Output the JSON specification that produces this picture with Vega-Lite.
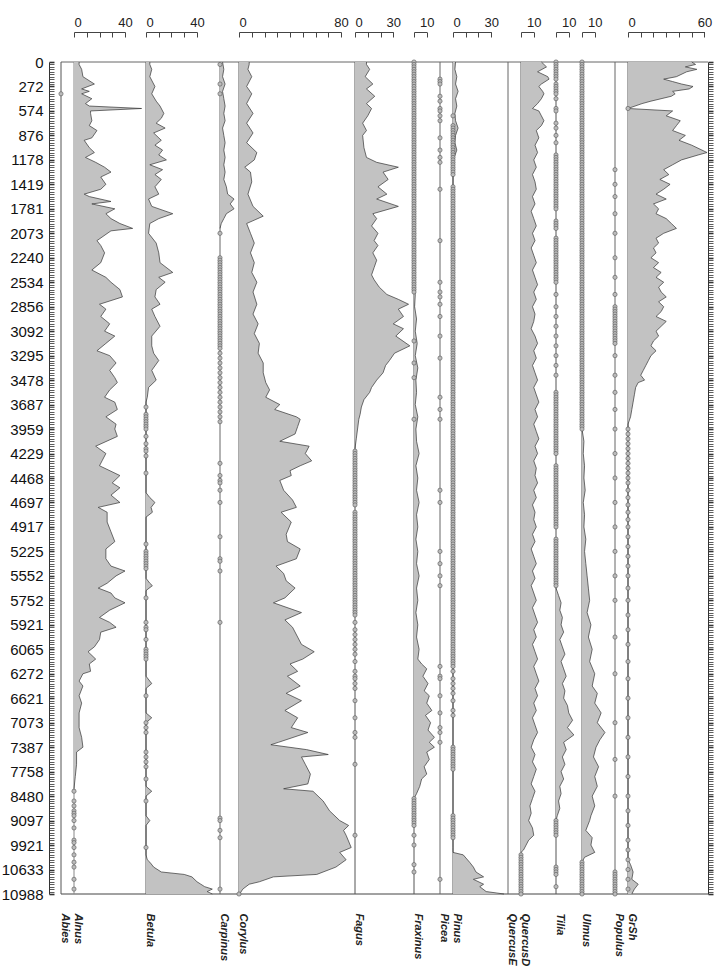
{
"$schema":"https://vega.github.io/schema/vega-lite/v6.json",
"padding":{"left":1,"top":16,"right":5,"bottom":0},
"spacing":0,
"bounds":"flush",
"config":{
 "view":{"stroke":null},
 "axis":{"grid":false,"labelFont":"Liberation Sans","titleFont":"Liberation Sans","domainColor":"#444","tickColor":"#444","labelColor":"#222"},
 "axisTop":{"offset":30,"tickSize":-5,"labelPadding":8,"labelFontSize":13,"title":null},
 "axisBottom":{"domain":false,"ticks":false,"labels":false,"titleAngle":90,"titleAlign":"left","titleBaseline":"alphabetic","titleX":0,"titleY":19,"titleFontSize":11,"titleFontWeight":"bold","titleFontStyle":"italic","titleColor":"#222"}
},
"datasets":{
"d_Abies":[{"i":13}],
"a_Alnus":[{"i":0,"v":4},{"i":1,"v":4},{"i":3,"v":6},{"i":6,"v":7},{"i":9,"v":16},{"i":11,"v":6},{"i":12,"v":12},{"i":13,"v":6},{"i":15,"v":14},{"i":17,"v":9},{"i":18,"v":12},{"i":19,"v":53},{"i":20,"v":13},{"i":21,"v":13},{"i":24,"v":14},{"i":26,"v":12},{"i":28,"v":18},{"i":31,"v":14},{"i":32,"v":8},{"i":35,"v":12},{"i":37,"v":16},{"i":39,"v":9},{"i":41,"v":17},{"i":43,"v":24},{"i":45,"v":29},{"i":47,"v":21},{"i":50,"v":25},{"i":52,"v":21},{"i":54,"v":8},{"i":55,"v":12},{"i":57,"v":29},{"i":58,"v":14},{"i":60,"v":32},{"i":62,"v":25},{"i":64,"v":29},{"i":66,"v":36},{"i":68,"v":46},{"i":69,"v":29},{"i":73,"v":18},{"i":75,"v":21},{"i":78,"v":24},{"i":82,"v":21},{"i":85,"v":14},{"i":88,"v":25},{"i":90,"v":29},{"i":93,"v":36},{"i":96,"v":38},{"i":99,"v":20},{"i":101,"v":25},{"i":104,"v":21},{"i":107,"v":28},{"i":110,"v":24},{"i":112,"v":32},{"i":115,"v":25},{"i":118,"v":18},{"i":120,"v":28},{"i":123,"v":33},{"i":126,"v":28},{"i":129,"v":32},{"i":131,"v":34},{"i":134,"v":28},{"i":137,"v":24},{"i":139,"v":32},{"i":142,"v":34},{"i":145,"v":25},{"i":148,"v":33},{"i":150,"v":32},{"i":153,"v":34},{"i":157,"v":17},{"i":160,"v":25},{"i":163,"v":22},{"i":165,"v":20},{"i":169,"v":36},{"i":172,"v":30},{"i":174,"v":36},{"i":177,"v":29},{"i":180,"v":36},{"i":182,"v":19},{"i":184,"v":26},{"i":188,"v":26},{"i":192,"v":29},{"i":196,"v":32},{"i":199,"v":25},{"i":203,"v":25},{"i":206,"v":29},{"i":208,"v":40},{"i":210,"v":33},{"i":213,"v":26},{"i":215,"v":19},{"i":217,"v":29},{"i":219,"v":32},{"i":221,"v":40},{"i":224,"v":28},{"i":227,"v":20},{"i":229,"v":28},{"i":231,"v":33},{"i":233,"v":21},{"i":236,"v":20},{"i":239,"v":16},{"i":241,"v":11},{"i":244,"v":17},{"i":246,"v":12},{"i":249,"v":13},{"i":250,"v":7},{"i":253,"v":4},{"i":255,"v":7},{"i":259,"v":4},{"i":262,"v":6},{"i":266,"v":4},{"i":272,"v":4},{"i":276,"v":6},{"i":280,"v":7},{"i":282,"v":2},{"i":287,"v":2},{"i":292,"v":1},{"i":297,"v":0}],
"d_Alnus":[{"i":298},{"i":302},{"i":304},{"i":306},{"i":307},{"i":308},{"i":310},{"i":313},{"i":318},{"i":319},{"i":321},{"i":324},{"i":327},{"i":329},{"i":334},{"i":338}],
"a_Betula":[{"i":0,"v":3},{"i":1,"v":3},{"i":3,"v":4.5},{"i":6,"v":3},{"i":10,"v":7},{"i":13,"v":4.5},{"i":16,"v":8},{"i":18,"v":11},{"i":21,"v":14},{"i":23,"v":12},{"i":25,"v":8},{"i":27,"v":15},{"i":29,"v":6},{"i":32,"v":12},{"i":34,"v":7},{"i":36,"v":13},{"i":38,"v":10},{"i":40,"v":16},{"i":42,"v":3},{"i":44,"v":13},{"i":46,"v":7},{"i":48,"v":12},{"i":51,"v":7},{"i":54,"v":10},{"i":56,"v":2},{"i":59,"v":4.5},{"i":62,"v":21},{"i":64,"v":10},{"i":66,"v":3},{"i":70,"v":2},{"i":74,"v":8},{"i":78,"v":10},{"i":82,"v":11},{"i":86,"v":21},{"i":88,"v":10},{"i":90,"v":15},{"i":93,"v":8},{"i":96,"v":7},{"i":99,"v":11},{"i":101,"v":4.5},{"i":104,"v":7},{"i":108,"v":11},{"i":112,"v":4.5},{"i":116,"v":4.5},{"i":119,"v":6},{"i":122,"v":10},{"i":126,"v":4.5},{"i":130,"v":8},{"i":133,"v":2},{"i":137,"v":1},{"i":139,"v":0},{"i":176,"v":0},{"i":178,"v":3},{"i":180,"v":7},{"i":182,"v":4},{"i":184,"v":5},{"i":186,"v":0},{"i":211,"v":0},{"i":213,"v":3},{"i":214,"v":5},{"i":216,"v":0},{"i":251,"v":0},{"i":253,"v":3},{"i":254,"v":4.5},{"i":256,"v":0},{"i":266,"v":0},{"i":268,"v":4.5},{"i":270,"v":0},{"i":296,"v":0},{"i":298,"v":4.5},{"i":300,"v":0},{"i":308,"v":0},{"i":310,"v":3},{"i":312,"v":0},{"i":324,"v":0},{"i":326,"v":1},{"i":327,"v":3},{"i":329,"v":6},{"i":331,"v":12},{"i":332,"v":30},{"i":333,"v":36},{"i":335,"v":40},{"i":336,"v":43},{"i":337,"v":46},{"i":338,"v":52},{"i":339,"v":48},{"i":340,"v":52}],
"d_Betula":[{"i":141},{"i":144},{"i":145},{"i":146},{"i":147},{"i":148},{"i":149},{"i":150},{"i":153},{"i":156},{"i":158},{"i":159},{"i":161},{"i":168},{"i":197},{"i":200},{"i":201},{"i":202},{"i":203},{"i":204},{"i":205},{"i":206},{"i":207},{"i":219},{"i":229},{"i":231},{"i":232},{"i":236},{"i":240},{"i":241},{"i":242},{"i":243},{"i":244},{"i":259},{"i":270},{"i":272},{"i":274},{"i":282},{"i":284},{"i":286},{"i":288},{"i":293},{"i":302},{"i":321}],
"a_Carpinus":[{"i":0,"v":2},{"i":3,"v":3},{"i":6,"v":2},{"i":9,"v":4},{"i":12,"v":2},{"i":15,"v":3},{"i":18,"v":4},{"i":21,"v":3},{"i":24,"v":4},{"i":27,"v":2},{"i":30,"v":3},{"i":33,"v":4},{"i":36,"v":3},{"i":39,"v":4},{"i":42,"v":3},{"i":45,"v":4},{"i":48,"v":3},{"i":51,"v":5},{"i":54,"v":6},{"i":56,"v":11},{"i":58,"v":8},{"i":60,"v":11},{"i":62,"v":5},{"i":64,"v":3},{"i":66,"v":1},{"i":68,"v":0}],
"d_Carpinus":[{"i":1},{"i":9},{"i":13},{"i":70},{"i":80},{"i":81},{"i":82},{"i":83},{"i":84},{"i":85},{"i":86},{"i":87},{"i":88},{"i":89},{"i":90},{"i":91},{"i":92},{"i":93},{"i":94},{"i":95},{"i":96},{"i":97},{"i":98},{"i":99},{"i":100},{"i":101},{"i":102},{"i":103},{"i":104},{"i":105},{"i":106},{"i":107},{"i":108},{"i":109},{"i":110},{"i":111},{"i":112},{"i":113},{"i":114},{"i":115},{"i":116},{"i":117},{"i":119},{"i":121},{"i":123},{"i":125},{"i":127},{"i":129},{"i":131},{"i":133},{"i":135},{"i":137},{"i":139},{"i":141},{"i":143},{"i":145},{"i":147},{"i":164},{"i":169},{"i":171},{"i":172},{"i":175},{"i":180},{"i":194},{"i":203},{"i":204},{"i":208},{"i":229},{"i":309},{"i":310},{"i":314},{"i":317},{"i":338}],
"a_Corylus":[{"i":0,"v":8},{"i":1,"v":8},{"i":3,"v":7},{"i":6,"v":10},{"i":10,"v":6},{"i":13,"v":10},{"i":17,"v":6},{"i":21,"v":11},{"i":25,"v":6},{"i":29,"v":11},{"i":33,"v":6},{"i":37,"v":14},{"i":40,"v":12},{"i":43,"v":4.5},{"i":45,"v":9},{"i":49,"v":10},{"i":54,"v":7},{"i":59,"v":11},{"i":63,"v":19},{"i":66,"v":6},{"i":70,"v":9},{"i":74,"v":12},{"i":78,"v":9},{"i":82,"v":12},{"i":86,"v":10},{"i":90,"v":14},{"i":94,"v":11},{"i":99,"v":14},{"i":103,"v":11},{"i":107,"v":15},{"i":111,"v":12},{"i":115,"v":16},{"i":119,"v":15},{"i":123,"v":19},{"i":127,"v":19},{"i":131,"v":21},{"i":134,"v":24},{"i":137,"v":21},{"i":140,"v":32},{"i":142,"v":28},{"i":145,"v":45},{"i":146,"v":48},{"i":149,"v":46},{"i":152,"v":44},{"i":155,"v":32},{"i":157,"v":55},{"i":160,"v":52},{"i":163,"v":57},{"i":165,"v":48},{"i":167,"v":40},{"i":169,"v":41},{"i":171,"v":32},{"i":175,"v":35},{"i":179,"v":42},{"i":182,"v":45},{"i":184,"v":33},{"i":188,"v":41},{"i":193,"v":37},{"i":196,"v":38},{"i":199,"v":48},{"i":203,"v":45},{"i":206,"v":29},{"i":209,"v":35},{"i":212,"v":37},{"i":215,"v":44},{"i":219,"v":36},{"i":221,"v":27},{"i":225,"v":49},{"i":228,"v":36},{"i":231,"v":42},{"i":235,"v":46},{"i":238,"v":49},{"i":241,"v":59},{"i":244,"v":50},{"i":246,"v":40},{"i":249,"v":46},{"i":251,"v":38},{"i":255,"v":48},{"i":258,"v":37},{"i":261,"v":49},{"i":265,"v":36},{"i":268,"v":46},{"i":272,"v":41},{"i":274,"v":54},{"i":278,"v":31},{"i":279,"v":25},{"i":281,"v":53},{"i":283,"v":70},{"i":284,"v":49},{"i":287,"v":52},{"i":291,"v":56},{"i":295,"v":54},{"i":297,"v":35},{"i":298,"v":58},{"i":302,"v":66},{"i":306,"v":71},{"i":310,"v":79},{"i":312,"v":86},{"i":314,"v":82},{"i":316,"v":84},{"i":321,"v":88},{"i":323,"v":79},{"i":326,"v":84},{"i":329,"v":76},{"i":332,"v":61},{"i":333,"v":27},{"i":335,"v":16},{"i":336,"v":8},{"i":338,"v":3},{"i":340,"v":0.5}],
"d_Corylus":[{"i":340}],
"a_Fagus":[{"i":0,"v":9},{"i":1,"v":9},{"i":3,"v":11.5},{"i":6,"v":8},{"i":9,"v":14},{"i":11,"v":9},{"i":14,"v":15.5},{"i":17,"v":9},{"i":19,"v":13},{"i":22,"v":10},{"i":25,"v":6},{"i":28,"v":9},{"i":30,"v":6},{"i":35,"v":7},{"i":39,"v":9},{"i":41,"v":17},{"i":43,"v":34},{"i":45,"v":22},{"i":48,"v":26},{"i":51,"v":18},{"i":54,"v":25},{"i":56,"v":17},{"i":59,"v":34},{"i":62,"v":14},{"i":64,"v":17},{"i":67,"v":13},{"i":70,"v":18},{"i":73,"v":15},{"i":75,"v":18},{"i":78,"v":14},{"i":81,"v":17},{"i":84,"v":15},{"i":87,"v":13},{"i":89,"v":15},{"i":92,"v":19},{"i":95,"v":25},{"i":97,"v":34},{"i":99,"v":42},{"i":101,"v":34},{"i":104,"v":38},{"i":107,"v":30},{"i":109,"v":38},{"i":112,"v":32},{"i":116,"v":43},{"i":119,"v":31},{"i":122,"v":27},{"i":124,"v":24},{"i":127,"v":22},{"i":130,"v":17},{"i":133,"v":13},{"i":135,"v":11.5},{"i":138,"v":7},{"i":141,"v":5},{"i":144,"v":4},{"i":146,"v":3},{"i":150,"v":2},{"i":154,"v":1},{"i":158,"v":0}],
"d_Fagus":[{"i":159},{"i":160},{"i":161},{"i":162},{"i":163},{"i":164},{"i":165},{"i":166},{"i":167},{"i":168},{"i":169},{"i":170},{"i":171},{"i":172},{"i":173},{"i":174},{"i":175},{"i":176},{"i":177},{"i":178},{"i":179},{"i":180},{"i":181},{"i":184},{"i":185},{"i":186},{"i":187},{"i":188},{"i":189},{"i":190},{"i":191},{"i":192},{"i":193},{"i":194},{"i":195},{"i":196},{"i":197},{"i":198},{"i":199},{"i":200},{"i":201},{"i":202},{"i":203},{"i":204},{"i":205},{"i":206},{"i":207},{"i":208},{"i":209},{"i":210},{"i":211},{"i":212},{"i":213},{"i":214},{"i":215},{"i":216},{"i":217},{"i":218},{"i":219},{"i":220},{"i":221},{"i":222},{"i":223},{"i":224},{"i":225},{"i":226},{"i":229},{"i":232},{"i":234},{"i":236},{"i":238},{"i":240},{"i":242},{"i":245},{"i":249},{"i":251},{"i":252},{"i":254},{"i":256},{"i":261},{"i":268},{"i":274},{"i":276},{"i":287},{"i":316}],
"a_Fraxinus":[{"i":90,"v":0},{"i":95,"v":1},{"i":100,"v":0.5},{"i":105,"v":2},{"i":110,"v":1},{"i":115,"v":2.5},{"i":120,"v":1},{"i":125,"v":3},{"i":130,"v":1.5},{"i":135,"v":2},{"i":140,"v":1},{"i":145,"v":3},{"i":150,"v":1.5},{"i":155,"v":2},{"i":160,"v":4},{"i":165,"v":1.5},{"i":170,"v":3},{"i":175,"v":2},{"i":180,"v":4},{"i":185,"v":2},{"i":190,"v":3},{"i":195,"v":1.5},{"i":200,"v":3},{"i":205,"v":2},{"i":210,"v":4},{"i":215,"v":2},{"i":220,"v":3},{"i":225,"v":1.5},{"i":230,"v":3},{"i":235,"v":2},{"i":240,"v":4},{"i":244,"v":3},{"i":246,"v":6},{"i":248,"v":10},{"i":251,"v":7},{"i":254,"v":11},{"i":257,"v":8},{"i":259,"v":12},{"i":262,"v":10},{"i":265,"v":14},{"i":267,"v":9},{"i":270,"v":13},{"i":273,"v":11},{"i":276,"v":16},{"i":278,"v":12},{"i":280,"v":16},{"i":282,"v":10},{"i":285,"v":12},{"i":288,"v":8},{"i":291,"v":10},{"i":293,"v":6},{"i":296,"v":4.5},{"i":299,"v":2},{"i":301,"v":0}],
"d_Fraxinus":[{"i":0},{"i":1},{"i":2},{"i":3},{"i":4},{"i":5},{"i":6},{"i":7},{"i":8},{"i":9},{"i":10},{"i":11},{"i":12},{"i":13},{"i":14},{"i":15},{"i":16},{"i":17},{"i":18},{"i":19},{"i":20},{"i":21},{"i":22},{"i":23},{"i":24},{"i":25},{"i":26},{"i":27},{"i":28},{"i":29},{"i":30},{"i":31},{"i":32},{"i":33},{"i":34},{"i":35},{"i":36},{"i":37},{"i":38},{"i":39},{"i":40},{"i":41},{"i":42},{"i":43},{"i":44},{"i":45},{"i":46},{"i":47},{"i":48},{"i":49},{"i":50},{"i":51},{"i":52},{"i":53},{"i":54},{"i":55},{"i":56},{"i":57},{"i":58},{"i":59},{"i":60},{"i":61},{"i":62},{"i":63},{"i":64},{"i":65},{"i":66},{"i":67},{"i":68},{"i":69},{"i":70},{"i":71},{"i":72},{"i":73},{"i":74},{"i":75},{"i":76},{"i":77},{"i":78},{"i":79},{"i":80},{"i":81},{"i":82},{"i":83},{"i":84},{"i":85},{"i":86},{"i":87},{"i":88},{"i":89},{"i":90},{"i":91},{"i":92},{"i":93},{"i":94},{"i":114},{"i":123},{"i":129},{"i":146},{"i":301},{"i":302},{"i":303},{"i":304},{"i":305},{"i":306},{"i":307},{"i":308},{"i":309},{"i":310},{"i":311},{"i":312},{"i":316},{"i":320},{"i":328},{"i":331}],
"d_Picea":[{"i":7},{"i":8},{"i":9},{"i":14},{"i":16},{"i":19},{"i":20},{"i":22},{"i":24},{"i":31},{"i":36},{"i":39},{"i":41},{"i":52},{"i":73},{"i":90},{"i":94},{"i":96},{"i":99},{"i":104},{"i":112},{"i":121},{"i":137},{"i":142},{"i":146},{"i":175},{"i":180},{"i":200},{"i":205},{"i":210},{"i":214},{"i":247},{"i":251},{"i":252},{"i":259},{"i":266},{"i":272},{"i":274},{"i":278},{"i":334}],
"a_Pinus":[{"i":0,"v":2},{"i":3,"v":1.5},{"i":6,"v":3},{"i":9,"v":2},{"i":12,"v":4},{"i":15,"v":2},{"i":18,"v":3},{"i":21,"v":1.5},{"i":24,"v":2},{"i":27,"v":4},{"i":30,"v":2},{"i":33,"v":1.5},{"i":36,"v":3},{"i":39,"v":1},{"i":42,"v":0},{"i":321,"v":0},{"i":323,"v":0},{"i":324,"v":8},{"i":327,"v":13},{"i":329,"v":16},{"i":331,"v":18},{"i":333,"v":24},{"i":334,"v":16},{"i":336,"v":24},{"i":337,"v":21},{"i":339,"v":26},{"i":340,"v":40}],
"d_Pinus":[{"i":22},{"i":26},{"i":27},{"i":28},{"i":29},{"i":30},{"i":31},{"i":32},{"i":33},{"i":34},{"i":35},{"i":36},{"i":37},{"i":38},{"i":39},{"i":40},{"i":41},{"i":42},{"i":43},{"i":44},{"i":45},{"i":46},{"i":51},{"i":52},{"i":53},{"i":54},{"i":55},{"i":56},{"i":57},{"i":58},{"i":59},{"i":60},{"i":61},{"i":62},{"i":63},{"i":64},{"i":65},{"i":66},{"i":67},{"i":68},{"i":69},{"i":70},{"i":71},{"i":72},{"i":73},{"i":74},{"i":75},{"i":76},{"i":77},{"i":78},{"i":79},{"i":80},{"i":81},{"i":82},{"i":83},{"i":84},{"i":85},{"i":86},{"i":87},{"i":88},{"i":89},{"i":90},{"i":91},{"i":92},{"i":93},{"i":94},{"i":95},{"i":96},{"i":97},{"i":98},{"i":99},{"i":100},{"i":101},{"i":102},{"i":103},{"i":104},{"i":105},{"i":106},{"i":107},{"i":108},{"i":109},{"i":110},{"i":111},{"i":112},{"i":113},{"i":114},{"i":115},{"i":116},{"i":117},{"i":118},{"i":119},{"i":120},{"i":121},{"i":122},{"i":123},{"i":124},{"i":125},{"i":126},{"i":127},{"i":128},{"i":129},{"i":130},{"i":131},{"i":132},{"i":133},{"i":134},{"i":135},{"i":136},{"i":137},{"i":138},{"i":139},{"i":140},{"i":141},{"i":142},{"i":143},{"i":144},{"i":145},{"i":146},{"i":147},{"i":148},{"i":149},{"i":150},{"i":151},{"i":152},{"i":153},{"i":154},{"i":155},{"i":156},{"i":157},{"i":158},{"i":159},{"i":160},{"i":161},{"i":162},{"i":163},{"i":164},{"i":165},{"i":166},{"i":167},{"i":168},{"i":169},{"i":170},{"i":171},{"i":172},{"i":173},{"i":174},{"i":175},{"i":176},{"i":177},{"i":178},{"i":179},{"i":180},{"i":181},{"i":182},{"i":183},{"i":184},{"i":185},{"i":186},{"i":187},{"i":188},{"i":189},{"i":190},{"i":191},{"i":192},{"i":193},{"i":194},{"i":195},{"i":196},{"i":197},{"i":198},{"i":199},{"i":200},{"i":201},{"i":202},{"i":203},{"i":204},{"i":205},{"i":206},{"i":207},{"i":208},{"i":209},{"i":210},{"i":211},{"i":212},{"i":213},{"i":214},{"i":215},{"i":216},{"i":217},{"i":218},{"i":219},{"i":220},{"i":221},{"i":222},{"i":223},{"i":224},{"i":225},{"i":226},{"i":227},{"i":228},{"i":229},{"i":230},{"i":231},{"i":232},{"i":233},{"i":234},{"i":235},{"i":236},{"i":237},{"i":238},{"i":239},{"i":240},{"i":241},{"i":242},{"i":243},{"i":244},{"i":245},{"i":246},{"i":247},{"i":249},{"i":252},{"i":254},{"i":256},{"i":258},{"i":261},{"i":265},{"i":267},{"i":280},{"i":281},{"i":282},{"i":283},{"i":284},{"i":285},{"i":286},{"i":287},{"i":288},{"i":289},{"i":308},{"i":309},{"i":310},{"i":311},{"i":312},{"i":313},{"i":314},{"i":315},{"i":316},{"i":317}],
"a_QuercusD":[{"i":0,"v":16},{"i":2,"v":20},{"i":4,"v":13},{"i":6,"v":21},{"i":7,"v":22},{"i":9,"v":16},{"i":10,"v":14},{"i":12,"v":17},{"i":13,"v":18},{"i":15,"v":16},{"i":17,"v":13},{"i":19,"v":9},{"i":20,"v":14},{"i":22,"v":16},{"i":24,"v":18},{"i":26,"v":16},{"i":28,"v":12},{"i":31,"v":14},{"i":34,"v":11},{"i":37,"v":13},{"i":40,"v":10},{"i":43,"v":12},{"i":46,"v":9},{"i":49,"v":11},{"i":52,"v":12},{"i":55,"v":9},{"i":58,"v":11},{"i":61,"v":8},{"i":64,"v":10},{"i":67,"v":12},{"i":70,"v":9},{"i":73,"v":11},{"i":76,"v":8},{"i":79,"v":10},{"i":82,"v":12},{"i":85,"v":9},{"i":88,"v":11},{"i":91,"v":13},{"i":94,"v":10},{"i":97,"v":12},{"i":100,"v":9},{"i":103,"v":11},{"i":106,"v":10},{"i":109,"v":8},{"i":112,"v":11},{"i":115,"v":13},{"i":118,"v":10},{"i":121,"v":12},{"i":124,"v":9},{"i":127,"v":11},{"i":130,"v":13},{"i":133,"v":10},{"i":136,"v":12},{"i":139,"v":14},{"i":142,"v":11},{"i":145,"v":13},{"i":148,"v":10},{"i":151,"v":12},{"i":154,"v":14},{"i":157,"v":11},{"i":160,"v":13},{"i":163,"v":10},{"i":166,"v":12},{"i":169,"v":11},{"i":172,"v":13},{"i":175,"v":10},{"i":178,"v":12},{"i":181,"v":9},{"i":184,"v":11},{"i":187,"v":10},{"i":190,"v":12},{"i":193,"v":9},{"i":196,"v":11},{"i":199,"v":8},{"i":202,"v":10},{"i":205,"v":12},{"i":208,"v":9},{"i":211,"v":11},{"i":214,"v":8},{"i":217,"v":10},{"i":220,"v":12},{"i":223,"v":9},{"i":226,"v":11},{"i":229,"v":13},{"i":232,"v":10},{"i":235,"v":12},{"i":238,"v":9},{"i":241,"v":11},{"i":244,"v":13},{"i":247,"v":10},{"i":250,"v":12},{"i":253,"v":14},{"i":256,"v":11},{"i":259,"v":13},{"i":262,"v":10},{"i":265,"v":12},{"i":268,"v":9},{"i":271,"v":11},{"i":274,"v":13},{"i":277,"v":10},{"i":280,"v":8},{"i":283,"v":11},{"i":286,"v":9},{"i":289,"v":12},{"i":292,"v":10},{"i":295,"v":8},{"i":298,"v":11},{"i":301,"v":9},{"i":304,"v":7},{"i":307,"v":8},{"i":310,"v":6},{"i":313,"v":9},{"i":316,"v":10},{"i":318,"v":6},{"i":320,"v":4},{"i":322,"v":2},{"i":323,"v":0}],
"d_QuercusD":[{"i":324},{"i":325},{"i":326},{"i":327},{"i":328},{"i":329},{"i":330},{"i":331},{"i":332},{"i":333},{"i":334},{"i":335},{"i":336},{"i":337},{"i":338},{"i":339},{"i":340}],
"a_Tilia":[{"i":215,"v":0},{"i":218,"v":2},{"i":221,"v":4},{"i":224,"v":3},{"i":227,"v":5},{"i":230,"v":4},{"i":233,"v":6},{"i":236,"v":3},{"i":239,"v":5},{"i":242,"v":7},{"i":245,"v":4},{"i":248,"v":6},{"i":251,"v":8},{"i":254,"v":5},{"i":257,"v":7},{"i":260,"v":6},{"i":263,"v":9},{"i":266,"v":10},{"i":269,"v":13},{"i":272,"v":9},{"i":275,"v":14},{"i":278,"v":6},{"i":281,"v":8},{"i":284,"v":5},{"i":287,"v":7},{"i":290,"v":4},{"i":293,"v":6},{"i":296,"v":3},{"i":299,"v":4},{"i":302,"v":2},{"i":305,"v":3},{"i":308,"v":1},{"i":310,"v":0}],
"d_Tilia":[{"i":0},{"i":1},{"i":2},{"i":3},{"i":4},{"i":5},{"i":6},{"i":7},{"i":9},{"i":10},{"i":11},{"i":12},{"i":13},{"i":15},{"i":19},{"i":20},{"i":25},{"i":27},{"i":30},{"i":33},{"i":38},{"i":39},{"i":40},{"i":41},{"i":42},{"i":43},{"i":44},{"i":45},{"i":46},{"i":47},{"i":48},{"i":49},{"i":50},{"i":51},{"i":52},{"i":53},{"i":54},{"i":55},{"i":56},{"i":57},{"i":58},{"i":59},{"i":60},{"i":65},{"i":66},{"i":67},{"i":68},{"i":72},{"i":73},{"i":74},{"i":75},{"i":76},{"i":77},{"i":78},{"i":79},{"i":80},{"i":81},{"i":82},{"i":83},{"i":84},{"i":85},{"i":86},{"i":87},{"i":88},{"i":89},{"i":90},{"i":95},{"i":100},{"i":104},{"i":108},{"i":112},{"i":116},{"i":120},{"i":124},{"i":128},{"i":135},{"i":136},{"i":137},{"i":138},{"i":139},{"i":140},{"i":141},{"i":142},{"i":143},{"i":144},{"i":145},{"i":146},{"i":147},{"i":148},{"i":149},{"i":150},{"i":151},{"i":152},{"i":153},{"i":154},{"i":155},{"i":156},{"i":157},{"i":158},{"i":159},{"i":160},{"i":165},{"i":166},{"i":167},{"i":168},{"i":169},{"i":170},{"i":171},{"i":172},{"i":173},{"i":174},{"i":175},{"i":176},{"i":177},{"i":178},{"i":179},{"i":180},{"i":181},{"i":182},{"i":183},{"i":184},{"i":185},{"i":186},{"i":187},{"i":188},{"i":189},{"i":190},{"i":195},{"i":196},{"i":197},{"i":198},{"i":199},{"i":200},{"i":201},{"i":202},{"i":203},{"i":204},{"i":205},{"i":206},{"i":207},{"i":208},{"i":209},{"i":210},{"i":211},{"i":212},{"i":213},{"i":214},{"i":310},{"i":311},{"i":312},{"i":313},{"i":314},{"i":315},{"i":316},{"i":329},{"i":330},{"i":331},{"i":332},{"i":337}],
"a_Ulmus":[{"i":150,"v":0},{"i":155,"v":1.5},{"i":160,"v":1},{"i":165,"v":2},{"i":170,"v":1.5},{"i":175,"v":2.5},{"i":180,"v":1},{"i":185,"v":2},{"i":190,"v":1.5},{"i":195,"v":3},{"i":200,"v":2},{"i":205,"v":3},{"i":210,"v":4},{"i":215,"v":5},{"i":220,"v":6},{"i":225,"v":4},{"i":230,"v":7},{"i":235,"v":5},{"i":240,"v":8},{"i":245,"v":6},{"i":250,"v":10},{"i":255,"v":8},{"i":258,"v":12},{"i":262,"v":10},{"i":266,"v":15},{"i":270,"v":12},{"i":274,"v":18},{"i":277,"v":14},{"i":280,"v":11},{"i":284,"v":9},{"i":288,"v":13},{"i":292,"v":10},{"i":296,"v":12},{"i":300,"v":8},{"i":304,"v":10},{"i":308,"v":7},{"i":310,"v":6},{"i":314,"v":3},{"i":317,"v":8},{"i":320,"v":7},{"i":323,"v":10},{"i":325,"v":2},{"i":327,"v":0}],
"d_Ulmus":[{"i":0},{"i":1},{"i":2},{"i":3},{"i":4},{"i":5},{"i":6},{"i":7},{"i":8},{"i":9},{"i":10},{"i":11},{"i":12},{"i":13},{"i":14},{"i":15},{"i":16},{"i":17},{"i":18},{"i":19},{"i":20},{"i":21},{"i":22},{"i":23},{"i":24},{"i":25},{"i":26},{"i":27},{"i":28},{"i":29},{"i":30},{"i":31},{"i":32},{"i":33},{"i":34},{"i":35},{"i":36},{"i":37},{"i":38},{"i":39},{"i":40},{"i":41},{"i":42},{"i":43},{"i":44},{"i":45},{"i":46},{"i":47},{"i":48},{"i":49},{"i":50},{"i":51},{"i":52},{"i":53},{"i":54},{"i":55},{"i":56},{"i":57},{"i":58},{"i":59},{"i":60},{"i":61},{"i":62},{"i":63},{"i":64},{"i":65},{"i":66},{"i":67},{"i":68},{"i":69},{"i":70},{"i":71},{"i":72},{"i":73},{"i":74},{"i":75},{"i":76},{"i":77},{"i":78},{"i":79},{"i":80},{"i":81},{"i":82},{"i":83},{"i":84},{"i":85},{"i":86},{"i":87},{"i":88},{"i":89},{"i":90},{"i":91},{"i":92},{"i":93},{"i":94},{"i":95},{"i":96},{"i":97},{"i":98},{"i":99},{"i":100},{"i":101},{"i":102},{"i":103},{"i":104},{"i":105},{"i":106},{"i":107},{"i":108},{"i":109},{"i":110},{"i":111},{"i":112},{"i":113},{"i":114},{"i":115},{"i":116},{"i":117},{"i":118},{"i":119},{"i":120},{"i":121},{"i":122},{"i":123},{"i":124},{"i":125},{"i":126},{"i":127},{"i":128},{"i":129},{"i":130},{"i":131},{"i":132},{"i":133},{"i":134},{"i":135},{"i":136},{"i":137},{"i":138},{"i":139},{"i":140},{"i":141},{"i":142},{"i":143},{"i":144},{"i":145},{"i":146},{"i":147},{"i":148},{"i":149},{"i":150},{"i":327},{"i":328},{"i":329},{"i":330},{"i":331},{"i":332},{"i":333},{"i":334},{"i":335},{"i":336},{"i":337},{"i":338},{"i":339},{"i":340}],
"d_Populus":[{"i":44},{"i":50},{"i":55},{"i":62},{"i":70},{"i":80},{"i":88},{"i":95},{"i":100},{"i":101},{"i":102},{"i":103},{"i":104},{"i":105},{"i":106},{"i":107},{"i":108},{"i":109},{"i":110},{"i":111},{"i":112},{"i":113},{"i":114},{"i":115},{"i":120},{"i":128},{"i":135},{"i":142},{"i":150},{"i":160},{"i":170},{"i":180},{"i":190},{"i":200},{"i":210},{"i":220},{"i":235},{"i":250},{"i":270},{"i":285},{"i":300},{"i":331},{"i":332},{"i":333},{"i":334},{"i":335},{"i":336},{"i":337},{"i":338},{"i":339},{"i":340}],
"a_GrSh":[{"i":0,"v":50},{"i":1,"v":53},{"i":2,"v":45},{"i":3,"v":54},{"i":4,"v":46},{"i":6,"v":38},{"i":7,"v":28},{"i":8,"v":35},{"i":9,"v":42},{"i":10,"v":51},{"i":11,"v":48},{"i":12,"v":35},{"i":13,"v":37},{"i":14,"v":34},{"i":16,"v":18},{"i":17,"v":11},{"i":19,"v":0},{"i":20,"v":35},{"i":22,"v":30},{"i":24,"v":41},{"i":26,"v":38},{"i":28,"v":35},{"i":30,"v":45},{"i":32,"v":40},{"i":34,"v":50},{"i":36,"v":58},{"i":37,"v":62},{"i":38,"v":55},{"i":40,"v":42},{"i":42,"v":35},{"i":44,"v":28},{"i":46,"v":32},{"i":48,"v":25},{"i":50,"v":33},{"i":52,"v":28},{"i":54,"v":22},{"i":56,"v":30},{"i":58,"v":20},{"i":60,"v":24},{"i":62,"v":22},{"i":64,"v":30},{"i":66,"v":34},{"i":68,"v":38},{"i":70,"v":28},{"i":72,"v":22},{"i":74,"v":24},{"i":76,"v":20},{"i":78,"v":22},{"i":80,"v":18},{"i":82,"v":24},{"i":84,"v":20},{"i":86,"v":26},{"i":88,"v":22},{"i":90,"v":28},{"i":92,"v":24},{"i":94,"v":26},{"i":96,"v":30},{"i":98,"v":24},{"i":100,"v":28},{"i":102,"v":26},{"i":104,"v":22},{"i":106,"v":30},{"i":108,"v":26},{"i":110,"v":22},{"i":112,"v":24},{"i":114,"v":20},{"i":116,"v":18},{"i":118,"v":22},{"i":120,"v":18},{"i":122,"v":16},{"i":124,"v":14},{"i":126,"v":12},{"i":128,"v":10},{"i":130,"v":13},{"i":131,"v":8},{"i":133,"v":6},{"i":136,"v":5},{"i":139,"v":4},{"i":142,"v":3},{"i":145,"v":2},{"i":148,"v":0},{"i":326,"v":0},{"i":328,"v":2},{"i":331,"v":4},{"i":334,"v":3},{"i":336,"v":8},{"i":338,"v":5},{"i":340,"v":3}],
"d_GrSh":[{"i":19},{"i":150},{"i":152},{"i":154},{"i":156},{"i":158},{"i":160},{"i":162},{"i":164},{"i":166},{"i":168},{"i":170},{"i":172},{"i":175},{"i":178},{"i":181},{"i":184},{"i":187},{"i":190},{"i":194},{"i":198},{"i":202},{"i":206},{"i":210},{"i":215},{"i":220},{"i":226},{"i":232},{"i":238},{"i":245},{"i":252},{"i":260},{"i":268},{"i":276},{"i":284},{"i":292},{"i":300},{"i":306},{"i":312},{"i":318},{"i":322},{"i":326},{"i":330},{"i":334},{"i":338}]
},
"hconcat":[
{"width":13,"height":832,"data":{"values":[{}]},"resolve":{"axis":{"x":"independent","y":"independent"}},"layer":[
 {"mark":{"type":"rule","color":"#666"},"encoding":{"x":{"datum":0,"type":"quantitative","scale":{"domain":[0,10.2],"nice":false,"zero":false},"axis":null},"x2":{"datum":10.2},"y":{"datum":0,"type":"quantitative","scale":{"domain":[0,340],"reverse":true,"nice":false,"zero":false},"axis":null}}},
 {"mark":{"type":"rule","color":"#444"},"encoding":{"x":{"datum":0,"type":"quantitative","axis":{"orient":"bottom","title":"Abies"}},"x2":{"datum":10.2},"y":{"datum":340,"type":"quantitative","axis":null}}},
 {"mark":{"type":"rule","color":"#555"},"encoding":{"x":{"datum":0,"type":"quantitative","axis":null},"y":{"datum":0,"type":"quantitative","axis":{"orient":"left","offset":12,"tickCount":340,"labelExpr":"datum.value % 10 == 0 ? ['0','272','574','876','1178','1419','1781','2073','2240','2534','2856','3092','3295','3478','3687','3959','4229','4468','4697','4917','5225','5552','5752','5921','6065','6272','6621','7073','7387','7758','8480','9097','9921','10633','10988'][datum.value/10] : ''","labelOverlap":false,"labelFlush":false,"tickSize":-5,"tickWidth":{"condition":{"test":"datum.value % 10 == 0","value":1.6},"value":0.8},"labelPadding":11,"labelFontSize":15,"title":null,"domainColor":"#333","tickColor":"#333","labelColor":"#111"}},"y2":{"datum":340}}},
 {"data":{"name":"d_Abies"},"mark":{"type":"circle","size":18,"fill":"#bbbbbb","stroke":"#555","strokeWidth":0.6,"opacity":1},"encoding":{"x":{"datum":0,"type":"quantitative","axis":null},"y":{"field":"i","type":"quantitative","axis":null}}}
]},
{"width":72,"height":832,"data":{"values":[{}]},"resolve":{"axis":{"x":"independent","y":"independent"}},"layer":[
 {"mark":{"type":"rule","color":"#666"},"encoding":{"x":{"datum":0,"type":"quantitative","scale":{"domain":[0,56.47],"nice":false,"zero":false},"axis":{"orient":"top","values":[0,10,20,30,40],"labelExpr":"datum.value==0||datum.value==40?datum.label:''","domainDash":[51,3000]}},"x2":{"datum":56.47},"y":{"datum":0,"type":"quantitative","scale":{"domain":[0,340],"reverse":true,"nice":false,"zero":false},"axis":null}}},
 {"mark":{"type":"rule","color":"#444"},"encoding":{"x":{"datum":0,"type":"quantitative","axis":{"orient":"bottom","title":"Alnus"}},"x2":{"datum":56.47},"y":{"datum":340,"type":"quantitative","axis":null}}},
 {"mark":{"type":"rule","color":"#888"},"encoding":{"x":{"datum":0,"type":"quantitative","axis":null},"y":{"datum":0,"type":"quantitative","axis":null},"y2":{"datum":340}}},
 {"data":{"name":"a_Alnus"},"mark":{"type":"area","orient":"horizontal","color":"#c2c2c2"},"encoding":{"x":{"field":"v","type":"quantitative","axis":null,"stack":null},"y":{"field":"i","type":"quantitative","axis":null}}},
 {"data":{"name":"a_Alnus"},"mark":{"type":"line","orient":"horizontal","color":"#333","strokeWidth":0.7},"encoding":{"x":{"field":"v","type":"quantitative","axis":null},"y":{"field":"i","type":"quantitative","axis":null}}},
 {"data":{"name":"d_Alnus"},"mark":{"type":"circle","size":18,"fill":"#bbbbbb","stroke":"#555","strokeWidth":0.6,"opacity":1},"encoding":{"x":{"datum":0,"type":"quantitative","axis":null},"y":{"field":"i","type":"quantitative","axis":null}}}
]},
{"width":74,"height":832,"data":{"values":[{}]},"resolve":{"axis":{"x":"independent","y":"independent"}},"layer":[
 {"mark":{"type":"rule","color":"#666"},"encoding":{"x":{"datum":0,"type":"quantitative","scale":{"domain":[0,58.04],"nice":false,"zero":false},"axis":{"orient":"top","values":[0,10,20,30,40],"labelExpr":"datum.value==0||datum.value==40?datum.label:''","domainDash":[51,3000]}},"x2":{"datum":58.04},"y":{"datum":0,"type":"quantitative","scale":{"domain":[0,340],"reverse":true,"nice":false,"zero":false},"axis":null}}},
 {"mark":{"type":"rule","color":"#444"},"encoding":{"x":{"datum":0,"type":"quantitative","axis":{"orient":"bottom","title":"Betula"}},"x2":{"datum":58.04},"y":{"datum":340,"type":"quantitative","axis":null}}},
 {"mark":{"type":"rule","color":"#555"},"encoding":{"x":{"datum":0,"type":"quantitative","axis":null},"y":{"datum":0,"type":"quantitative","axis":null},"y2":{"datum":340}}},
 {"data":{"name":"a_Betula"},"mark":{"type":"area","orient":"horizontal","color":"#c2c2c2"},"encoding":{"x":{"field":"v","type":"quantitative","axis":null,"stack":null},"y":{"field":"i","type":"quantitative","axis":null}}},
 {"data":{"name":"a_Betula"},"mark":{"type":"line","orient":"horizontal","color":"#333","strokeWidth":0.7},"encoding":{"x":{"field":"v","type":"quantitative","axis":null},"y":{"field":"i","type":"quantitative","axis":null}}},
 {"data":{"name":"d_Betula"},"mark":{"type":"circle","size":18,"fill":"#bbbbbb","stroke":"#555","strokeWidth":0.6,"opacity":1},"encoding":{"x":{"datum":0,"type":"quantitative","axis":null},"y":{"field":"i","type":"quantitative","axis":null}}}
]},
{"width":19,"height":832,"data":{"values":[{}]},"resolve":{"axis":{"x":"independent","y":"independent"}},"layer":[
 {"mark":{"type":"rule","color":"#666"},"encoding":{"x":{"datum":0,"type":"quantitative","scale":{"domain":[0,14.9],"nice":false,"zero":false},"axis":null},"x2":{"datum":14.9},"y":{"datum":0,"type":"quantitative","scale":{"domain":[0,340],"reverse":true,"nice":false,"zero":false},"axis":null}}},
 {"mark":{"type":"rule","color":"#444"},"encoding":{"x":{"datum":0,"type":"quantitative","axis":{"orient":"bottom","title":"Carpinus"}},"x2":{"datum":14.9},"y":{"datum":340,"type":"quantitative","axis":null}}},
 {"mark":{"type":"rule","color":"#666"},"encoding":{"x":{"datum":0,"type":"quantitative","axis":null},"y":{"datum":0,"type":"quantitative","axis":null},"y2":{"datum":340}}},
 {"data":{"name":"a_Carpinus"},"mark":{"type":"area","orient":"horizontal","color":"#c2c2c2"},"encoding":{"x":{"field":"v","type":"quantitative","axis":null,"stack":null},"y":{"field":"i","type":"quantitative","axis":null}}},
 {"data":{"name":"a_Carpinus"},"mark":{"type":"line","orient":"horizontal","color":"#333","strokeWidth":0.7},"encoding":{"x":{"field":"v","type":"quantitative","axis":null},"y":{"field":"i","type":"quantitative","axis":null}}},
 {"data":{"name":"d_Carpinus"},"mark":{"type":"circle","size":18,"fill":"#bbbbbb","stroke":"#555","strokeWidth":0.6,"opacity":1},"encoding":{"x":{"datum":0,"type":"quantitative","axis":null},"y":{"field":"i","type":"quantitative","axis":null}}}
]},
{"width":116,"height":832,"data":{"values":[{}]},"resolve":{"axis":{"x":"independent","y":"independent"}},"layer":[
 {"mark":{"type":"rule","color":"#666"},"encoding":{"x":{"datum":0,"type":"quantitative","scale":{"domain":[0,90.98],"nice":false,"zero":false},"axis":{"orient":"top","values":[0,10,20,30,40,50,60,70,80],"labelExpr":"datum.value==0||datum.value==80?datum.label:''","domainDash":[102,3000]}},"x2":{"datum":90.98},"y":{"datum":0,"type":"quantitative","scale":{"domain":[0,340],"reverse":true,"nice":false,"zero":false},"axis":null}}},
 {"mark":{"type":"rule","color":"#444"},"encoding":{"x":{"datum":0,"type":"quantitative","axis":{"orient":"bottom","title":"Corylus"}},"x2":{"datum":90.98},"y":{"datum":340,"type":"quantitative","axis":null}}},
 {"mark":{"type":"rule","color":"#555"},"encoding":{"x":{"datum":0,"type":"quantitative","axis":null},"y":{"datum":0,"type":"quantitative","axis":null},"y2":{"datum":340}}},
 {"data":{"name":"a_Corylus"},"mark":{"type":"area","orient":"horizontal","color":"#c2c2c2"},"encoding":{"x":{"field":"v","type":"quantitative","axis":null,"stack":null},"y":{"field":"i","type":"quantitative","axis":null}}},
 {"data":{"name":"a_Corylus"},"mark":{"type":"line","orient":"horizontal","color":"#333","strokeWidth":0.7},"encoding":{"x":{"field":"v","type":"quantitative","axis":null},"y":{"field":"i","type":"quantitative","axis":null}}},
 {"data":{"name":"d_Corylus"},"mark":{"type":"circle","size":18,"fill":"#bbbbbb","stroke":"#555","strokeWidth":0.6,"opacity":1},"encoding":{"x":{"datum":0,"type":"quantitative","axis":null},"y":{"field":"i","type":"quantitative","axis":null}}}
]},
{"width":59,"height":832,"data":{"values":[{}]},"resolve":{"axis":{"x":"independent","y":"independent"}},"layer":[
 {"mark":{"type":"rule","color":"#666"},"encoding":{"x":{"datum":0,"type":"quantitative","scale":{"domain":[0,46.27],"nice":false,"zero":false},"axis":{"orient":"top","values":[0,10,20,30],"labelExpr":"datum.value==0||datum.value==30?datum.label:''","domainDash":[38.25,3000]}},"x2":{"datum":46.27},"y":{"datum":0,"type":"quantitative","scale":{"domain":[0,340],"reverse":true,"nice":false,"zero":false},"axis":null}}},
 {"mark":{"type":"rule","color":"#444"},"encoding":{"x":{"datum":0,"type":"quantitative","axis":{"orient":"bottom","title":"Fagus"}},"x2":{"datum":46.27},"y":{"datum":340,"type":"quantitative","axis":null}}},
 {"mark":{"type":"rule","color":"#555"},"encoding":{"x":{"datum":0,"type":"quantitative","axis":null},"y":{"datum":0,"type":"quantitative","axis":null},"y2":{"datum":340}}},
 {"data":{"name":"a_Fagus"},"mark":{"type":"area","orient":"horizontal","color":"#c2c2c2"},"encoding":{"x":{"field":"v","type":"quantitative","axis":null,"stack":null},"y":{"field":"i","type":"quantitative","axis":null}}},
 {"data":{"name":"a_Fagus"},"mark":{"type":"line","orient":"horizontal","color":"#333","strokeWidth":0.7},"encoding":{"x":{"field":"v","type":"quantitative","axis":null},"y":{"field":"i","type":"quantitative","axis":null}}},
 {"data":{"name":"d_Fagus"},"mark":{"type":"circle","size":18,"fill":"#bbbbbb","stroke":"#555","strokeWidth":0.6,"opacity":1},"encoding":{"x":{"datum":0,"type":"quantitative","axis":null},"y":{"field":"i","type":"quantitative","axis":null}}}
]},
{"width":26,"height":832,"data":{"values":[{}]},"resolve":{"axis":{"x":"independent","y":"independent"}},"layer":[
 {"mark":{"type":"rule","color":"#666"},"encoding":{"x":{"datum":0,"type":"quantitative","scale":{"domain":[0,20.39],"nice":false,"zero":false},"axis":{"orient":"top","values":[0,10],"labelExpr":"datum.value==10?'10':''","domainDash":[12.75,3000]}},"x2":{"datum":20.39},"y":{"datum":0,"type":"quantitative","scale":{"domain":[0,340],"reverse":true,"nice":false,"zero":false},"axis":null}}},
 {"mark":{"type":"rule","color":"#444"},"encoding":{"x":{"datum":0,"type":"quantitative","axis":{"orient":"bottom","title":"Fraxinus"}},"x2":{"datum":20.39},"y":{"datum":340,"type":"quantitative","axis":null}}},
 {"mark":{"type":"rule","color":"#555"},"encoding":{"x":{"datum":0,"type":"quantitative","axis":null},"y":{"datum":0,"type":"quantitative","axis":null},"y2":{"datum":340}}},
 {"data":{"name":"a_Fraxinus"},"mark":{"type":"area","orient":"horizontal","color":"#c2c2c2"},"encoding":{"x":{"field":"v","type":"quantitative","axis":null,"stack":null},"y":{"field":"i","type":"quantitative","axis":null}}},
 {"data":{"name":"a_Fraxinus"},"mark":{"type":"line","orient":"horizontal","color":"#333","strokeWidth":0.7},"encoding":{"x":{"field":"v","type":"quantitative","axis":null},"y":{"field":"i","type":"quantitative","axis":null}}},
 {"data":{"name":"d_Fraxinus"},"mark":{"type":"circle","size":18,"fill":"#bbbbbb","stroke":"#555","strokeWidth":0.6,"opacity":1},"encoding":{"x":{"datum":0,"type":"quantitative","axis":null},"y":{"field":"i","type":"quantitative","axis":null}}}
]},
{"width":13,"height":832,"data":{"values":[{}]},"resolve":{"axis":{"x":"independent","y":"independent"}},"layer":[
 {"mark":{"type":"rule","color":"#666"},"encoding":{"x":{"datum":0,"type":"quantitative","scale":{"domain":[0,10.2],"nice":false,"zero":false},"axis":null},"x2":{"datum":10.2},"y":{"datum":0,"type":"quantitative","scale":{"domain":[0,340],"reverse":true,"nice":false,"zero":false},"axis":null}}},
 {"mark":{"type":"rule","color":"#444"},"encoding":{"x":{"datum":0,"type":"quantitative","axis":{"orient":"bottom","title":"Picea"}},"x2":{"datum":10.2},"y":{"datum":340,"type":"quantitative","axis":null}}},
 {"mark":{"type":"rule","color":"#666"},"encoding":{"x":{"datum":0,"type":"quantitative","axis":null},"y":{"datum":0,"type":"quantitative","axis":null},"y2":{"datum":340}}},
 {"data":{"name":"d_Picea"},"mark":{"type":"circle","size":18,"fill":"#bbbbbb","stroke":"#555","strokeWidth":0.6,"opacity":1},"encoding":{"x":{"datum":0,"type":"quantitative","axis":null},"y":{"field":"i","type":"quantitative","axis":null}}}
]},
{"width":55,"height":832,"data":{"values":[{}]},"resolve":{"axis":{"x":"independent","y":"independent"}},"layer":[
 {"mark":{"type":"rule","color":"#666"},"encoding":{"x":{"datum":0,"type":"quantitative","scale":{"domain":[0,43.14],"nice":false,"zero":false},"axis":{"orient":"top","values":[0,10,20,30],"labelExpr":"datum.value==0||datum.value==30?datum.label:''","domainDash":[38.25,3000]}},"x2":{"datum":43.14},"y":{"datum":0,"type":"quantitative","scale":{"domain":[0,340],"reverse":true,"nice":false,"zero":false},"axis":null}}},
 {"mark":{"type":"rule","color":"#444"},"encoding":{"x":{"datum":0,"type":"quantitative","axis":{"orient":"bottom","title":"Pinus"}},"x2":{"datum":43.14},"y":{"datum":340,"type":"quantitative","axis":null}}},
 {"mark":{"type":"rule","color":"#555"},"encoding":{"x":{"datum":0,"type":"quantitative","axis":null},"y":{"datum":0,"type":"quantitative","axis":null},"y2":{"datum":340}}},
 {"data":{"name":"a_Pinus"},"mark":{"type":"area","orient":"horizontal","color":"#c2c2c2"},"encoding":{"x":{"field":"v","type":"quantitative","axis":null,"stack":null},"y":{"field":"i","type":"quantitative","axis":null}}},
 {"data":{"name":"a_Pinus"},"mark":{"type":"line","orient":"horizontal","color":"#333","strokeWidth":0.7},"encoding":{"x":{"field":"v","type":"quantitative","axis":null},"y":{"field":"i","type":"quantitative","axis":null}}},
 {"data":{"name":"d_Pinus"},"mark":{"type":"circle","size":18,"fill":"#bbbbbb","stroke":"#555","strokeWidth":0.6,"opacity":1},"encoding":{"x":{"datum":0,"type":"quantitative","axis":null},"y":{"field":"i","type":"quantitative","axis":null}}}
]},
{"width":13,"height":832,"data":{"values":[{}]},"resolve":{"axis":{"x":"independent","y":"independent"}},"layer":[
 {"mark":{"type":"rule","color":"#666"},"encoding":{"x":{"datum":0,"type":"quantitative","scale":{"domain":[0,10.2],"nice":false,"zero":false},"axis":null},"x2":{"datum":10.2},"y":{"datum":0,"type":"quantitative","scale":{"domain":[0,340],"reverse":true,"nice":false,"zero":false},"axis":null}}},
 {"mark":{"type":"rule","color":"#444"},"encoding":{"x":{"datum":0,"type":"quantitative","axis":{"orient":"bottom","title":"QuercusE"}},"x2":{"datum":10.2},"y":{"datum":340,"type":"quantitative","axis":null}}},
 {"mark":{"type":"rule","color":"#666"},"encoding":{"x":{"datum":0,"type":"quantitative","axis":null},"y":{"datum":0,"type":"quantitative","axis":null},"y2":{"datum":340}}}
]},
{"width":35,"height":832,"data":{"values":[{}]},"resolve":{"axis":{"x":"independent","y":"independent"}},"layer":[
 {"mark":{"type":"rule","color":"#666"},"encoding":{"x":{"datum":0,"type":"quantitative","scale":{"domain":[0,27.45],"nice":false,"zero":false},"axis":{"orient":"top","values":[0,10],"labelExpr":"datum.value==10?'10':''","domainDash":[12.75,3000]}},"x2":{"datum":27.45},"y":{"datum":0,"type":"quantitative","scale":{"domain":[0,340],"reverse":true,"nice":false,"zero":false},"axis":null}}},
 {"mark":{"type":"rule","color":"#444"},"encoding":{"x":{"datum":0,"type":"quantitative","axis":{"orient":"bottom","title":"QuercusD"}},"x2":{"datum":27.45},"y":{"datum":340,"type":"quantitative","axis":null}}},
 {"mark":{"type":"rule","color":"#555"},"encoding":{"x":{"datum":0,"type":"quantitative","axis":null},"y":{"datum":0,"type":"quantitative","axis":null},"y2":{"datum":340}}},
 {"data":{"name":"a_QuercusD"},"mark":{"type":"area","orient":"horizontal","color":"#c2c2c2"},"encoding":{"x":{"field":"v","type":"quantitative","axis":null,"stack":null},"y":{"field":"i","type":"quantitative","axis":null}}},
 {"data":{"name":"a_QuercusD"},"mark":{"type":"line","orient":"horizontal","color":"#333","strokeWidth":0.7},"encoding":{"x":{"field":"v","type":"quantitative","axis":null},"y":{"field":"i","type":"quantitative","axis":null}}},
 {"data":{"name":"d_QuercusD"},"mark":{"type":"circle","size":18,"fill":"#bbbbbb","stroke":"#555","strokeWidth":0.6,"opacity":1},"encoding":{"x":{"datum":0,"type":"quantitative","axis":null},"y":{"field":"i","type":"quantitative","axis":null}}}
]},
{"width":26,"height":832,"data":{"values":[{}]},"resolve":{"axis":{"x":"independent","y":"independent"}},"layer":[
 {"mark":{"type":"rule","color":"#666"},"encoding":{"x":{"datum":0,"type":"quantitative","scale":{"domain":[0,20.39],"nice":false,"zero":false},"axis":{"orient":"top","values":[0,10],"labelExpr":"datum.value==10?'10':''","domainDash":[12.75,3000]}},"x2":{"datum":20.39},"y":{"datum":0,"type":"quantitative","scale":{"domain":[0,340],"reverse":true,"nice":false,"zero":false},"axis":null}}},
 {"mark":{"type":"rule","color":"#444"},"encoding":{"x":{"datum":0,"type":"quantitative","axis":{"orient":"bottom","title":"Tilia"}},"x2":{"datum":20.39},"y":{"datum":340,"type":"quantitative","axis":null}}},
 {"mark":{"type":"rule","color":"#555"},"encoding":{"x":{"datum":0,"type":"quantitative","axis":null},"y":{"datum":0,"type":"quantitative","axis":null},"y2":{"datum":340}}},
 {"data":{"name":"a_Tilia"},"mark":{"type":"area","orient":"horizontal","color":"#c2c2c2"},"encoding":{"x":{"field":"v","type":"quantitative","axis":null,"stack":null},"y":{"field":"i","type":"quantitative","axis":null}}},
 {"data":{"name":"a_Tilia"},"mark":{"type":"line","orient":"horizontal","color":"#333","strokeWidth":0.7},"encoding":{"x":{"field":"v","type":"quantitative","axis":null},"y":{"field":"i","type":"quantitative","axis":null}}},
 {"data":{"name":"d_Tilia"},"mark":{"type":"circle","size":18,"fill":"#bbbbbb","stroke":"#555","strokeWidth":0.6,"opacity":1},"encoding":{"x":{"datum":0,"type":"quantitative","axis":null},"y":{"field":"i","type":"quantitative","axis":null}}}
]},
{"width":33,"height":832,"data":{"values":[{}]},"resolve":{"axis":{"x":"independent","y":"independent"}},"layer":[
 {"mark":{"type":"rule","color":"#666"},"encoding":{"x":{"datum":0,"type":"quantitative","scale":{"domain":[0,25.88],"nice":false,"zero":false},"axis":{"orient":"top","values":[0,10],"labelExpr":"datum.value==10?'10':''","domainDash":[12.75,3000]}},"x2":{"datum":25.88},"y":{"datum":0,"type":"quantitative","scale":{"domain":[0,340],"reverse":true,"nice":false,"zero":false},"axis":null}}},
 {"mark":{"type":"rule","color":"#444"},"encoding":{"x":{"datum":0,"type":"quantitative","axis":{"orient":"bottom","title":"Ulmus"}},"x2":{"datum":25.88},"y":{"datum":340,"type":"quantitative","axis":null}}},
 {"mark":{"type":"rule","color":"#555"},"encoding":{"x":{"datum":0,"type":"quantitative","axis":null},"y":{"datum":0,"type":"quantitative","axis":null},"y2":{"datum":340}}},
 {"data":{"name":"a_Ulmus"},"mark":{"type":"area","orient":"horizontal","color":"#c2c2c2"},"encoding":{"x":{"field":"v","type":"quantitative","axis":null,"stack":null},"y":{"field":"i","type":"quantitative","axis":null}}},
 {"data":{"name":"a_Ulmus"},"mark":{"type":"line","orient":"horizontal","color":"#333","strokeWidth":0.7},"encoding":{"x":{"field":"v","type":"quantitative","axis":null},"y":{"field":"i","type":"quantitative","axis":null}}},
 {"data":{"name":"d_Ulmus"},"mark":{"type":"circle","size":18,"fill":"#bbbbbb","stroke":"#555","strokeWidth":0.6,"opacity":1},"encoding":{"x":{"datum":0,"type":"quantitative","axis":null},"y":{"field":"i","type":"quantitative","axis":null}}}
]},
{"width":13,"height":832,"data":{"values":[{}]},"resolve":{"axis":{"x":"independent","y":"independent"}},"layer":[
 {"mark":{"type":"rule","color":"#666"},"encoding":{"x":{"datum":0,"type":"quantitative","scale":{"domain":[0,10.2],"nice":false,"zero":false},"axis":null},"x2":{"datum":10.2},"y":{"datum":0,"type":"quantitative","scale":{"domain":[0,340],"reverse":true,"nice":false,"zero":false},"axis":null}}},
 {"mark":{"type":"rule","color":"#444"},"encoding":{"x":{"datum":0,"type":"quantitative","axis":{"orient":"bottom","title":"Populus"}},"x2":{"datum":10.2},"y":{"datum":340,"type":"quantitative","axis":null}}},
 {"mark":{"type":"rule","color":"#666"},"encoding":{"x":{"datum":0,"type":"quantitative","axis":null},"y":{"datum":0,"type":"quantitative","axis":null},"y2":{"datum":340}}},
 {"data":{"name":"d_Populus"},"mark":{"type":"circle","size":18,"fill":"#bbbbbb","stroke":"#555","strokeWidth":0.6,"opacity":1},"encoding":{"x":{"datum":0,"type":"quantitative","axis":null},"y":{"field":"i","type":"quantitative","axis":null}}}
]},
{"width":80,"height":832,"data":{"values":[{}]},"resolve":{"axis":{"x":"independent","y":"independent"}},"layer":[
 {"mark":{"type":"rule","color":"#666"},"encoding":{"x":{"datum":0,"type":"quantitative","scale":{"domain":[0,62.75],"nice":false,"zero":false},"axis":{"orient":"top","values":[0,10,20,30,40,50,60],"labelExpr":"datum.value==0||datum.value==60?datum.label:''","domainDash":[76.5,3000]}},"x2":{"datum":62.75},"y":{"datum":0,"type":"quantitative","scale":{"domain":[0,340],"reverse":true,"nice":false,"zero":false},"axis":null}}},
 {"mark":{"type":"rule","color":"#444"},"encoding":{"x":{"datum":0,"type":"quantitative","axis":{"orient":"bottom","title":"GrSh"}},"x2":{"datum":62.75},"y":{"datum":340,"type":"quantitative","axis":null}}},
 {"mark":{"type":"rule","color":"#555"},"encoding":{"x":{"datum":0,"type":"quantitative","axis":null},"y":{"datum":0,"type":"quantitative","axis":{"orient":"right","offset":0,"tickCount":340,"labels":false,"tickSize":5,"tickWidth":{"condition":{"test":"datum.value % 10 == 0","value":1.6},"value":0.8},"title":null,"domainColor":"#333","tickColor":"#333"}},"y2":{"datum":340}}},
 {"data":{"name":"a_GrSh"},"mark":{"type":"area","orient":"horizontal","color":"#c2c2c2"},"encoding":{"x":{"field":"v","type":"quantitative","axis":null,"stack":null},"y":{"field":"i","type":"quantitative","axis":null}}},
 {"data":{"name":"a_GrSh"},"mark":{"type":"line","orient":"horizontal","color":"#333","strokeWidth":0.7},"encoding":{"x":{"field":"v","type":"quantitative","axis":null},"y":{"field":"i","type":"quantitative","axis":null}}},
 {"data":{"name":"d_GrSh"},"mark":{"type":"circle","size":18,"fill":"#bbbbbb","stroke":"#555","strokeWidth":0.6,"opacity":1},"encoding":{"x":{"datum":0,"type":"quantitative","axis":null},"y":{"field":"i","type":"quantitative","axis":null}}}
]}
]
}
